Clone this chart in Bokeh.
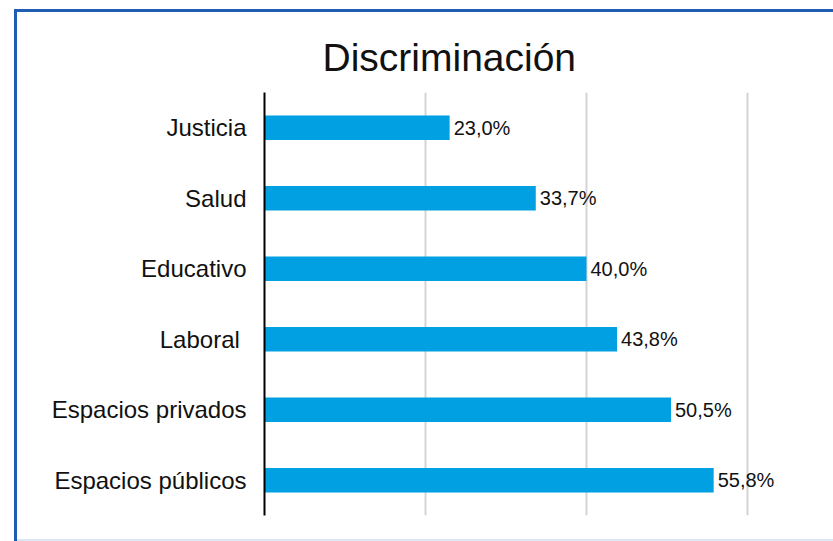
from bokeh.plotting import figure
from bokeh.models import FactorRange, Range1d, ColumnDataSource, FixedTicker, Spacer
from bokeh.layouts import column, row
from bokeh.embed import file_html
from bokeh.resources import INLINE
from bokeh.core.properties import value

categories = ["Justicia", "Salud", "Educativo", "Laboral ", "Espacios privados", "Espacios públicos"]
values = [23.0, 33.7, 40.0, 43.8, 50.5, 55.8]
grid_ticks = [20, 40, 60]
title_text = "Discriminación"

labels = [("%.1f%%" % v).replace(".", ",") for v in values]
source = ColumnDataSource(dict(cat=categories, val=values, lab=labels))

FONT = "Liberation Sans"
BLUE = "#1f5db3"

# canvas starts at page (17, 12)
p = figure(
    width=816, height=527,
    y_range=FactorRange(factors=list(reversed(categories))),
    x_range=Range1d(0, 67.83),
    output_backend="svg", toolbar_location=None,
    min_border_left=247, min_border_right=23, min_border_top=80, min_border_bottom=24,
    margin=0,
)
p.outline_line_color = None
p.background_fill_color = "white"
p.border_fill_color = "white"

p.title.text = title_text
p.title.text_font = FONT
p.title.text_font_size = "39px"
p.title.text_font_style = "normal"
p.title.text_color = "#111111"
p.title.align = "left"
p.title.offset = 58
p.title.standoff = 28

p.hbar(y="cat", left=0, right="val", height=0.35, source=source,
       fill_color="#00a0e3", line_color=None)
p.text(x="val", y="cat", text="lab", source=source, x_offset=4,
       text_font=value(FONT), text_font_size="20px", text_baseline="middle",
       text_align="left", text_color="#111111")

p.xaxis.visible = False
p.xaxis.ticker = FixedTicker(ticks=grid_ticks)
p.xgrid.ticker = FixedTicker(ticks=grid_ticks)
p.xgrid.grid_line_color = "#d4d4d4"
p.xgrid.grid_line_width = 2
p.ygrid.grid_line_color = None

p.yaxis.axis_line_color = "black"
p.yaxis.axis_line_width = 2
p.yaxis.major_tick_line_color = None
p.yaxis.minor_tick_line_color = None
p.yaxis.major_label_text_font = FONT
p.yaxis.major_label_text_font_size = "24px"
p.yaxis.major_label_text_color = "#111111"
p.yaxis.major_label_standoff = 12

top_bar = Spacer(width=819, height=3, margin=0, styles={"background-color": BLUE})
left_bar = Spacer(width=3, height=529, margin=0, styles={"background-color": BLUE})
bottom_line = Spacer(width=816, height=2, margin=0, styles={"background-color": "#dde7f3"})
inner = column(top_bar,
               row(left_bar, column(p, bottom_line, spacing=0, margin=0), spacing=0, margin=0),
               spacing=0, margin=0)
layout = column(Spacer(width=10, height=9, margin=0),
                row(Spacer(width=14, height=10, margin=0), inner, spacing=0, margin=0),
                spacing=0, margin=0)

open("out.html", "w").write(file_html(layout, INLINE))
